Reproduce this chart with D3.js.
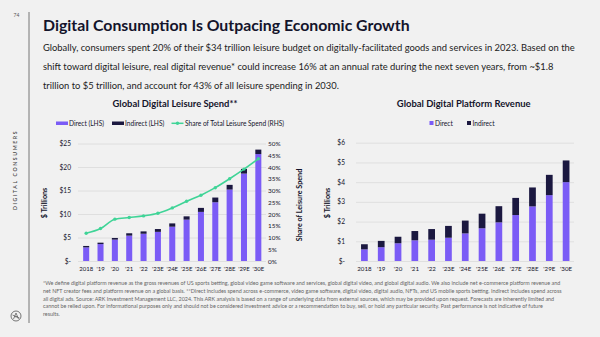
<!DOCTYPE html>
<html><head><meta charset="utf-8">
<script src="https://cdn.jsdelivr.net/npm/d3@7"></script>
<style>
html,body{margin:0;padding:0;background:#f1f1f1;}
svg{display:block;font-family:Lato,"Noto Sans",sans-serif;}
</style></head>
<body><svg id="c" width="600" height="337"></svg>
<script>
// ---------- DATA ----------
const years = ["2018","'19","'20","'21","'22","'23E","'24E","'25E","'26E","'27E","'28E","'29E","'30E"];
const leisureDirect   = [2.9, 3.6, 4.55, 5.4, 5.8, 6.2, 7.3, 8.8, 10.45, 12.5, 15.2, 18.6, 22.75];
const leisureIndirect = [0.3, 0.3, 0.35, 0.5, 0.5, 0.6, 0.7, 0.7, 0.85, 1.0, 1.0, 1.0, 0.95];
const leisureShare    = [11.8, 13.8, 17.8, 18.5, 19.2, 20.3, 22.6, 25.4, 28.0, 31.2, 35.0, 39.1, 43.5];
const platformDirect   = [0.59, 0.70, 0.90, 1.05, 1.08, 1.18, 1.40, 1.66, 1.96, 2.33, 2.77, 3.34, 4.00];
const platformIndirect = [0.26, 0.32, 0.33, 0.47, 0.54, 0.60, 0.65, 0.74, 0.82, 0.87, 0.96, 1.03, 1.10];
const leftTicks = [0, 5, 10, 15, 20, 25];
const shareTicks = [0, 5, 10, 15, 20, 25, 30, 35, 40, 45, 50];
const rightTicks = [0, 1, 2, 3, 4, 5, 6];

const titleText = "Digital Consumption Is Outpacing Economic Growth";
const bodyLines = [
  "Globally, consumers spent 20% of their $34 trillion leisure budget on digitally-facilitated goods and services in 2023. Based on the",
  "shift toward digital leisure, real digital revenue* could increase 16% at an annual rate during the next seven years, from ~$1.8",
  "trillion to $5 trillion, and account for 43% of all leisure spending in 2030."
];
const footLines = [
  "*We define digital platform revenue as the gross revenues of US sports betting, global video game software and services, global digital video, and global digital audio. We also include net e-commerce platform revenue and",
  "net NFT creator fees and platform revenue on a global basis. **Direct includes spend across e-commerce, video game software, digital video, digital audio, NFTs, and US mobile sports betting. Indirect includes spend across",
  "all digital ads. Source: ARK Investment Management LLC, 2024. This ARK analysis is based on a range of underlying data from external sources, which may be provided upon request. Forecasts are inherently limited and",
  "cannot be relied upon. For informational purposes only and should not be considered investment advice or a recommendation to buy, sell, or hold any particular security. Past performance is not indicative of future",
  "results."
];

// ---------- STYLE ----------
const C_DIRECT = "#7b5cf6", C_INDIRECT = "#1b1840", C_LINE = "#3fd497", C_TEXT = "#14142b", C_GRID = "#dadada";

const svg = d3.select("#c");
svg.append("rect").attr("width",600).attr("height",337).attr("fill","#f1f1f1");

function fit(sel, w){ const n = sel.node(); const fs = parseFloat(sel.attr("font-size")); const l = n.getComputedTextLength(); sel.attr("font-size", (fs*w/l).toFixed(2)); return fs*w/l; }

// page frame
svg.append("text").attr("x",16.5).attr("y",17).attr("font-size",5).attr("fill","#555").attr("text-anchor","middle").text("74");
svg.append("line").attr("x1",29).attr("x2",29).attr("y1",12).attr("y2",323).attr("stroke","#777").attr("stroke-width",1);
svg.append("text").attr("transform","translate(16.5,170) rotate(-90)").attr("text-anchor","middle")
  .attr("font-size",5.2).attr("letter-spacing",1.6).attr("fill","#444").attr("font-weight",600).text("DIGITAL CONSUMERS");
// logo
const lg = svg.append("g").attr("transform","translate(16,316)");
lg.append("circle").attr("r",5).attr("fill","none").attr("stroke","#555").attr("stroke-width",0.8);
lg.append("path").attr("d","M-2.5,3 L0,-3 L2.5,3 M-1.5,0.8 L1.5,0.8 M-3.5,-1 L3.5,2").attr("fill","none").attr("stroke","#555").attr("stroke-width",0.7);

// title + body
const t = svg.append("text").attr("x",43).attr("y",30.5).attr("font-size",17).attr("font-weight",700).attr("fill",C_TEXT).text(titleText);
fit(t, 367);
let bfs = null;
bodyLines.forEach((s,i)=>{
  const b = svg.append("text").attr("x",43).attr("y",51 + i*19).attr("font-size",10).attr("fill","#222").text(s);
  if(i===0) bfs = fit(b, 533); else b.attr("font-size", bfs.toFixed(2));
});
let ffs = null;
footLines.forEach((s,i)=>{
  const f = svg.append("text").attr("x",43).attr("y",285 + i*7.8).attr("font-size",5).attr("fill","#666").text(s);
  if(i===0) ffs = fit(f, 518); else f.attr("font-size", ffs.toFixed(2));
});

// ---------- LEFT CHART ----------
const xL = d3.scaleBand().domain(years).range([79,265.5]).paddingInner(0.58).paddingOuter(0.29);
const yL = d3.scaleLinear().domain([0,25]).range([261,143.5]);
const yS = d3.scaleLinear().domain([0,50]).range([261,143.5]);

const lt = svg.append("text").attr("x",175).attr("y",107).attr("text-anchor","middle").attr("font-size",9).attr("font-weight",700).attr("fill",C_TEXT).text("Global Digital Leisure Spend**");
fit(lt,125);

const gLa = svg.append("g").attr("transform","translate(78,0)")
  .call(d3.axisLeft(yL).tickValues(leftTicks).tickSize(-188).tickPadding(7).tickFormat(d=>d===0?"$-":"$"+d));
gLa.select(".domain").remove();
gLa.selectAll("line").attr("stroke",C_GRID).attr("stroke-width",0.8);
gLa.selectAll("text").attr("font-size",6.6).attr("fill",C_TEXT).attr("font-family","Lato,sans-serif");

const gSa = svg.append("g").attr("transform","translate(266,0)")
  .call(d3.axisRight(yS).tickValues(shareTicks).tickSize(0).tickPadding(2).tickFormat(d=>d+"%"));
gSa.select(".domain").remove();
gSa.selectAll("text").attr("font-size",6.4).attr("fill",C_TEXT).attr("font-family","Lato,sans-serif");

const gLx = svg.append("g").attr("transform","translate(0,265)")
  .call(d3.axisBottom(xL).tickSize(0).tickPadding(2));
gLx.select(".domain").remove();
gLx.selectAll("text").attr("font-size",6.0).attr("fill",C_TEXT).attr("font-family","Lato,sans-serif");

const lrows = years.map((y,i)=>({y, d:leisureDirect[i], n:leisureIndirect[i], s:leisureShare[i]}));
svg.append("g").selectAll("rect.d").data(lrows).join("rect")
  .attr("x",r=>xL(r.y)).attr("width",xL.bandwidth()).attr("y",r=>yL(r.d)).attr("height",r=>yL(0)-yL(r.d)).attr("fill",C_DIRECT);
svg.append("g").selectAll("rect.n").data(lrows).join("rect")
  .attr("x",r=>xL(r.y)).attr("width",xL.bandwidth()).attr("y",r=>yL(r.d+r.n)).attr("height",r=>yL(r.d)-yL(r.d+r.n)).attr("fill",C_INDIRECT);
const line = d3.line().x(r=>xL(r.y)+xL.bandwidth()/2).y(r=>yS(r.s)).curve(d3.curveMonotoneX);
svg.append("path").datum(lrows).attr("d",line).attr("fill","none").attr("stroke",C_LINE).attr("stroke-width",1.6);
svg.append("g").selectAll("circle").data(lrows).join("circle")
  .attr("cx",r=>xL(r.y)+xL.bandwidth()/2).attr("cy",r=>yS(r.s)).attr("r",1.7).attr("fill",C_LINE);

svg.append("text").attr("transform","translate(46.5,203) rotate(-90)").attr("text-anchor","middle").attr("font-size",7.2).attr("font-weight",700).attr("fill",C_TEXT).text("$ Trillions");
svg.append("text").attr("transform","translate(302,205) rotate(-90)").attr("text-anchor","middle").attr("font-size",7.2).attr("font-weight",700).attr("fill",C_TEXT).text("Share of Leisure Spend");

// left legend
const leg = svg.append("g").attr("font-size",6.6).attr("fill",C_TEXT);
leg.append("rect").attr("x",56).attr("y",121.5).attr("width",12).attr("height",3.5).attr("fill",C_DIRECT);
leg.append("text").attr("x",69).attr("y",125.6).text("Direct (LHS)");
leg.append("rect").attr("x",112).attr("y",121.5).attr("width",12).attr("height",3.5).attr("fill",C_INDIRECT);
leg.append("text").attr("x",125).attr("y",125.6).text("Indirect (LHS)");
leg.append("line").attr("x1",171.5).attr("x2",183.5).attr("y1",123.3).attr("y2",123.3).attr("stroke",C_LINE).attr("stroke-width",1.5);
leg.append("circle").attr("cx",177.5).attr("cy",123.3).attr("r",1.7).attr("fill",C_LINE);
leg.append("text").attr("x",185).attr("y",125.6).text("Share of Total Leisure Spend (RHS)");

// ---------- RIGHT CHART ----------
const xR = d3.scaleBand().domain(years).range([356,574.5]).paddingInner(0.6).paddingOuter(0.3);
const yR = d3.scaleLinear().domain([0,6]).range([261,142.7]);

const rt = svg.append("text").attr("x",463.7).attr("y",107).attr("text-anchor","middle").attr("font-size",9).attr("font-weight",700).attr("fill",C_TEXT).text("Global Digital Platform Revenue");
fit(rt,134);

const gRa = svg.append("g").attr("transform","translate(356,0)")
  .call(d3.axisLeft(yR).tickValues(rightTicks).tickSize(-218).tickPadding(11).tickFormat(d=>d===0?"$-":"$"+d));
gRa.select(".domain").remove();
gRa.selectAll("line").attr("stroke",C_GRID).attr("stroke-width",0.8);
gRa.selectAll("text").attr("font-size",6.6).attr("fill",C_TEXT).attr("font-family","Lato,sans-serif");

const gRx = svg.append("g").attr("transform","translate(0,265)")
  .call(d3.axisBottom(xR).tickSize(0).tickPadding(2));
gRx.select(".domain").remove();
gRx.selectAll("text").attr("font-size",6.2).attr("fill",C_TEXT).attr("font-family","Lato,sans-serif");

const rrows = years.map((y,i)=>({y, d:platformDirect[i], n:platformIndirect[i]}));
svg.append("g").selectAll("rect").data(rrows).join("rect")
  .attr("x",r=>xR(r.y)).attr("width",xR.bandwidth()).attr("y",r=>yR(r.d)).attr("height",r=>yR(0)-yR(r.d)).attr("fill",C_DIRECT);
svg.append("g").selectAll("rect").data(rrows).join("rect")
  .attr("x",r=>xR(r.y)).attr("width",xR.bandwidth()).attr("y",r=>yR(r.d+r.n)).attr("height",r=>yR(r.d)-yR(r.d+r.n)).attr("fill",C_INDIRECT);

svg.append("text").attr("transform","translate(330,203) rotate(-90)").attr("text-anchor","middle").attr("font-size",7.2).attr("font-weight",700).attr("fill",C_TEXT).text("$ Trillions");

const leg2 = svg.append("g").attr("font-size",6.6).attr("fill",C_TEXT);
leg2.append("rect").attr("x",429.5).attr("y",121).attr("width",4).attr("height",4).attr("fill",C_DIRECT);
leg2.append("text").attr("x",435).attr("y",125.6).text("Direct");
leg2.append("rect").attr("x",467).attr("y",121).attr("width",4).attr("height",4).attr("fill",C_INDIRECT);
leg2.append("text").attr("x",472.5).attr("y",125.6).text("Indirect");
</script></body></html>
